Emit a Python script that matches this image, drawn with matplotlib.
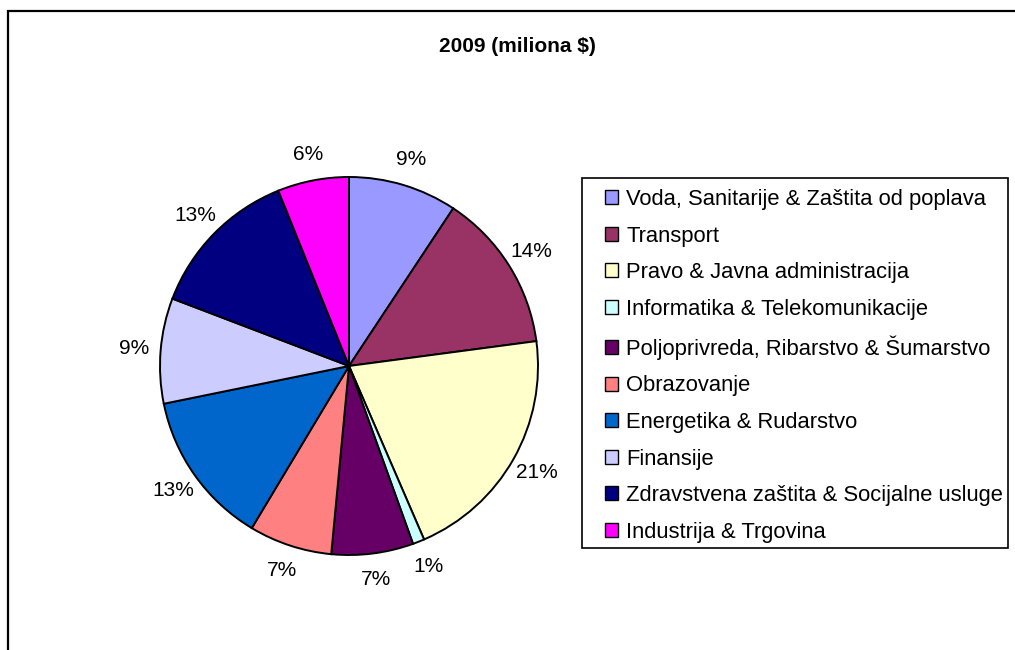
import matplotlib
matplotlib.use('Agg')
import matplotlib.pyplot as plt
from matplotlib.patches import Rectangle, Patch

plt.rcParams['font.family'] = ['Liberation Sans', 'DejaVu Sans']

# ## Data ## #
categories = ['Voda, Sanitarije & Zaštita od poplava',
              'Transport',
              'Pravo & Javna administracija',
              'Informatika & Telekomunikacije',
              'Poljoprivreda, Ribarstvo & Šumarstvo',
              'Obrazovanje',
              'Energetika & Rudarstvo',
              'Finansije',
              'Zdravstvena zaštita & Socijalne usluge',
              'Industrija & Trgovina']
# shares (percent)
values = [9.3, 13.6, 20.6, 1.0, 7.0, 7.1, 13.2, 9.0, 13.1, 6.1]
colors = ['#9999FF', '#993366', '#FFFFCC', '#CCFFFF', '#660066',
          '#FF8080', '#0066CC', '#CCCCFF', '#000080', '#FF00FF']
title = '2009 (miliona $)'

W, H = 1015, 650
fig = plt.figure(figsize=(W / 100, H / 100), dpi=100)
fig.patch.set_facecolor('white')

# outer chart frame (right and bottom edges run off the image)
fig.patches.append(Rectangle((8 / W, -0.1), 1.2, (H - 11) / H + 0.1,
                             transform=fig.transFigure, fill=False,
                             edgecolor='black', linewidth=1.6))

# pie axes: centre (349, 366), radius 189 px
cx, cy, r = 349, 366, 189
ax = fig.add_axes([(cx - r) / W, (H - cy - r) / H, 2 * r / W, 2 * r / H])
wedges, texts, autotexts = ax.pie(values, colors=colors, startangle=90,
                                  counterclock=False, autopct='%1.0f%%',
                                  pctdistance=1.14,
                                  wedgeprops=dict(edgecolor='black',
                                                  linewidth=1.4),
                                  textprops=dict(fontsize=15,
                                                 color='black'))
ax.set_xlim(-1, 1)
ax.set_ylim(-1, 1)
ax.set_aspect('equal')

fig.text(517 / W, 1 - 47 / H, title, ha='center', va='center',
         fontsize=15, fontweight='bold')

# legend box
fig.patches.append(Rectangle((582 / W, 1 - 548 / H), 426 / W, 370 / H,
                             transform=fig.transFigure, facecolor='white',
                             edgecolor='black', linewidth=1.2))
handles = [Patch(facecolor=c, edgecolor='black', linewidth=1.0)
           for c in colors]
leg = fig.legend(handles, categories, loc='upper left',
                 bbox_to_anchor=(605 / W, 1 - 189 / H),
                 fontsize=15.8, frameon=False, borderaxespad=0,
                 borderpad=0, labelspacing=0.71, handlelength=0.6,
                 handleheight=0.6, handletextpad=0.37)

fig.savefig('out.png', dpi=100, facecolor='white')
